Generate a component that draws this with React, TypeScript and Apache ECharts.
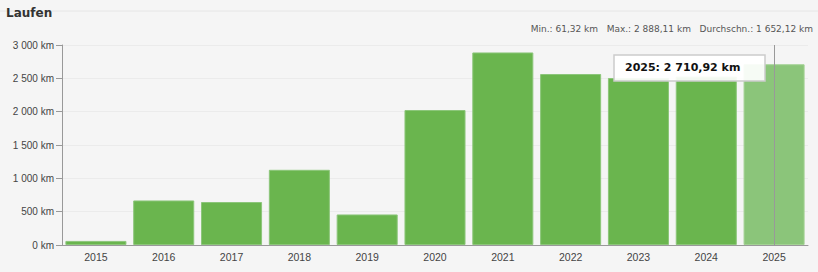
import React, { useEffect, useRef } from "react";
import * as echarts from "echarts";

const years = ["2015", "2016", "2017", "2018", "2019", "2020", "2021", "2022", "2023", "2024", "2025"];
const distances = [61.32, 668, 645, 1128, 458, 2025, 2888.11, 2565, 2505, 2525, 2710.92];
const yTicks = { min: 0, max: 3000, interval: 500 };
const title = "Laufen";
const statsText = "Min.: 61,32 km   Max.: 2 888,11 km   Durchschn.: 1 652,12 km";
const highlightYear = "2025";
const tooltipText = "2025: 2 710,92 km";

const fmtThousands = (v: number) =>
  String(Math.round(v)).replace(/\B(?=(\d{3})+(?!\d))/g, " ");

export default function App() {
  const ref = useRef<HTMLDivElement>(null);
  useEffect(() => {
    if (!ref.current) return;
    const chart = echarts.init(ref.current, null, { renderer: "svg" });
    const font = "Liberation Sans, Arial, sans-serif";
    chart.setOption({
      animation: false,
      backgroundColor: "#f5f5f5",
      textStyle: { fontFamily: font },
      grid: { left: 62, right: 10, top: 45, bottom: 27, containLabel: false },
      graphic: [
        { type: "line", shape: { x1: 0, y1: 11, x2: 818, y2: 11 }, style: { stroke: "#e6e6e6", lineWidth: 1 }, silent: true },
        {
          type: "text", left: 6, top: 7,
          style: { text: title, font: "bold 12px DejaVu Sans, Verdana, sans-serif", fill: "#333" },
        },
        {
          type: "text", right: 5, top: 24,
          style: { text: statsText, font: "9px DejaVu Sans, Verdana, sans-serif", fill: "#555" },
        },
        {
          type: "rect", shape: { x: 614, y: 55, width: 151, height: 26 },
          style: { fill: "rgba(255,255,255,0.92)", stroke: "#cccccc", lineWidth: 1.5 }, z: 100,
        },
        {
          type: "text", x: 625, y: 62, z: 101,
          style: { text: tooltipText, font: "bold 11px DejaVu Sans, Verdana, sans-serif", fill: "#111" },
        },
      ],
      xAxis: {
        type: "category",
        data: years,
        axisLine: { lineStyle: { color: "#999" } },
        axisTick: { alignWithLabel: true, length: 5, lineStyle: { color: "#999" } },
        axisLabel: { color: "#444", fontSize: 10.5, margin: 6 },
      },
      yAxis: {
        type: "value",
        min: yTicks.min,
        max: yTicks.max,
        interval: yTicks.interval,
        axisLine: { show: true, lineStyle: { color: "#999" } },
        axisTick: { show: true, length: 6, lineStyle: { color: "#999" } },
        axisLabel: { color: "#444", fontSize: 10, margin: 8, formatter: (v: number) => fmtThousands(v) + " km" },
        splitLine: { lineStyle: { color: "#ebebeb" } },
      },
      series: [
        {
          type: "bar",
          barCategoryGap: "10%",
          data: distances.map((v, i) =>
            years[i] === highlightYear
              ? { value: v, itemStyle: { color: "#8bc57a", borderColor: "#a3d294", borderWidth: 1 } }
              : v
          ),
          itemStyle: { color: "#6ab54e", borderColor: "#8cc67a", borderWidth: 1 },
          markLine: {
            silent: true,
            symbol: "none",
            label: { show: false },
            lineStyle: { color: "#999", width: 1, type: "solid" },
            data: [{ xAxis: highlightYear }],
          },
        },
      ],
    });
    return () => chart.dispose();
  }, []);
  return (
    <div
      ref={ref}
      style={{ position: "fixed", left: 0, top: 0, width: 818, height: 272 }}
    />
  );
}
